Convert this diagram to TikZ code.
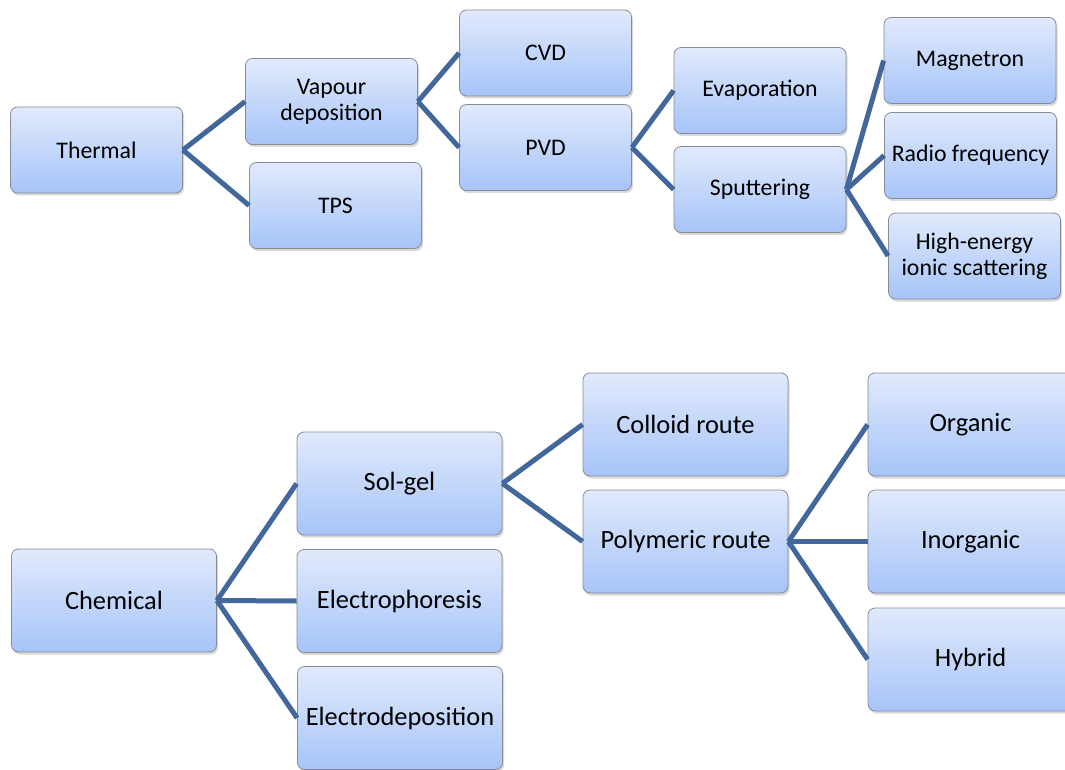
\documentclass[tikz,border=0pt]{standalone}
\usepackage{fontspec}
\setmainfont{Carlito}
\usetikzlibrary{shadows}

\definecolor{boxtop}{RGB}{225,234,252}
\definecolor{boxbottom}{RGB}{166,196,248}
\definecolor{boxline}{RGB}{135,140,150}
\definecolor{linkblue}{RGB}{66,103,155}

\tikzset{
    box/.style={draw=boxline, line width=0.8pt, rounded corners=7pt,
        top color=boxtop, bottom color=boxbottom, text=black, align=center,
        inner sep=2pt,
        drop shadow={opacity=0.3, shadow xshift=1.5pt, shadow yshift=-2.5pt}},
    topbox/.style={box, minimum width=172pt, minimum height=86pt,
        font=\fontsize{23.8}{26}\selectfont},
    lowbox/.style={box, minimum width=205pt, minimum height=103pt,
        font=\fontsize{26.4}{30}\selectfont},
    link/.style={draw=linkblue, line width=5pt}
}

\begin{document}
\begin{tikzpicture}[x=1pt, y=-1pt]
            \clip (0,0) rectangle (1065,770);

            % 热处理分支
            \node[topbox] (thermal)    at (96.5,150)   {Thermal};
            \node[topbox] (vapour)     at (331.5,101.5) {Vapour\\deposition};
            \node[topbox] (tps)        at (335.5,205.5) {TPS};
            \node[topbox] (cvd)        at (545.5,53)   {CVD};
            \node[topbox] (pvd)        at (545.5,147.5) {PVD};
            \node[topbox] (evap)       at (760,90.5)   {Evaporation};
            \node[topbox] (sputter)    at (760,189.5)  {Sputtering};
            \node[topbox] (magnetron)  at (970,60.5)   {Magnetron};
            \node[topbox] (radio)      at (970.5,155.5) {Radio frequency};
            \node[topbox] (highenergy) at (974.5,256)  {High-energy\\ionic scattering};

            \foreach \c in {vapour,tps}
                \draw[link] (thermal.east) -- (\c.west);
            \foreach \c in {cvd,pvd}
                \draw[link] (vapour.east) -- (\c.west);
            \foreach \c in {evap,sputter}
                \draw[link] (pvd.east) -- (\c.west);
            \foreach \c in {magnetron,radio,highenergy}
                \draw[link] (sputter.east) -- (\c.west);

            % 化学分支
            \node[lowbox] (chemical)  at (114,600.5)  {Chemical};
            \node[lowbox] (solgel)    at (399.5,483.5) {Sol-gel};
            \node[lowbox] (ephoresis) at (399.5,601)  {Electrophoresis};
            \node[lowbox] (edepo)     at (400,718)    {Electrodeposition};
            \node[lowbox] (colloid)   at (685.5,424.5) {Colloid route};
            \node[lowbox] (polymeric) at (685.5,541.5) {Polymeric route};
            \node[lowbox] (organic)   at (970.5,424.5) {Organic};
            \node[lowbox] (inorganic) at (970.5,541.5) {Inorganic};
            \node[lowbox] (hybrid)    at (970.5,659.5) {Hybrid};

            \foreach \c in {solgel,ephoresis,edepo}
                \draw[link] (chemical.east) -- (\c.west);
            \foreach \c in {colloid,polymeric}
                \draw[link] (solgel.east) -- (\c.west);
            \foreach \c in {organic,inorganic,hybrid}
                \draw[link] (polymeric.east) -- (\c.west);
        \end{tikzpicture}
\end{document}
